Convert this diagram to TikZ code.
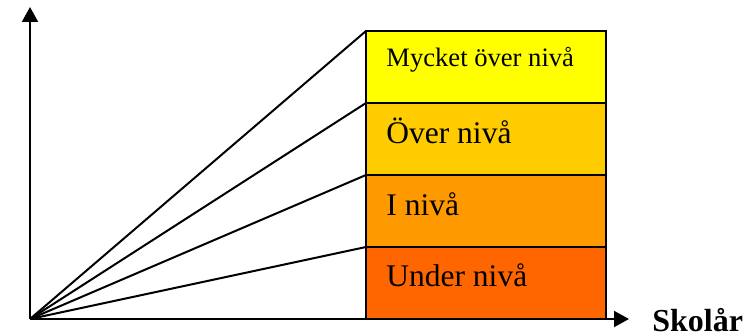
\documentclass[tikz,border=0pt]{standalone}
\usepackage{fontspec}
\setmainfont{Liberation Serif}
\usetikzlibrary{arrows.meta, positioning, calc}

\begin{document}
\begin{tikzpicture}[
    x=0.5pt, y=-0.5pt,
    % Style definitions
    level/.style={draw, line width=1pt, minimum width=120pt, minimum height=36pt, inner sep=0pt, outer sep=0pt},
    leveltext/.style={anchor=base west, inner sep=0pt, font=\fontsize{15.75}{18}\selectfont},
    axis/.style={-{Triangle[length=7.5pt, width=8pt]}, line width=1pt, black},
    ray/.style={line width=1pt, black},
]
\useasboundingbox (0,0) rectangle (751,336);

%% ---------- AXES ----------
\coordinate (origin) at (30,319);
\coordinate (y_end) at (30,7);
\coordinate (x_end) at (629,319);

%% ---------- LEVEL BOXES ----------
\node[level, fill={rgb,255:red,255;green,255;blue,0}, anchor=north west] (box_mycket) at (366,31) {};
\node[level, fill={rgb,255:red,255;green,204;blue,0}, below=0pt of box_mycket] (box_over) {};
\node[level, fill={rgb,255:red,255;green,153;blue,0}, below=0pt of box_over] (box_i) {};
\node[level, fill={rgb,255:red,255;green,102;blue,0}, below=0pt of box_i] (box_under) {};

%% ---------- LABELS ----------
\node[leveltext, font=\fontsize{13.3}{16}\selectfont] (txt_mycket) at ([shift={(20,36)}]box_mycket.north west) {Mycket över nivå};
\node[leveltext] (txt_over) at ([shift={(20,41)}]box_over.north west) {Över nivå};
\node[leveltext] (txt_i) at ([shift={(20,41)}]box_i.north west) {I nivå};
\node[leveltext] (txt_under) at ([shift={(20,40)}]box_under.north west) {Under nivå};
\node[anchor=base west, inner sep=0pt, font=\fontsize{16}{19}\selectfont\bfseries] (skolar) at (652,332) {Skolår};

%% ========== LINES ==========

% Rays from origin to each level
\foreach \b in {box_mycket, box_over, box_i, box_under}
    \draw[ray] (origin) -- (\b.north west);

% Axes
\draw[axis] (origin) -- (y_end);
\draw[axis] (origin) -- (x_end);

\end{tikzpicture}
\end{document}
